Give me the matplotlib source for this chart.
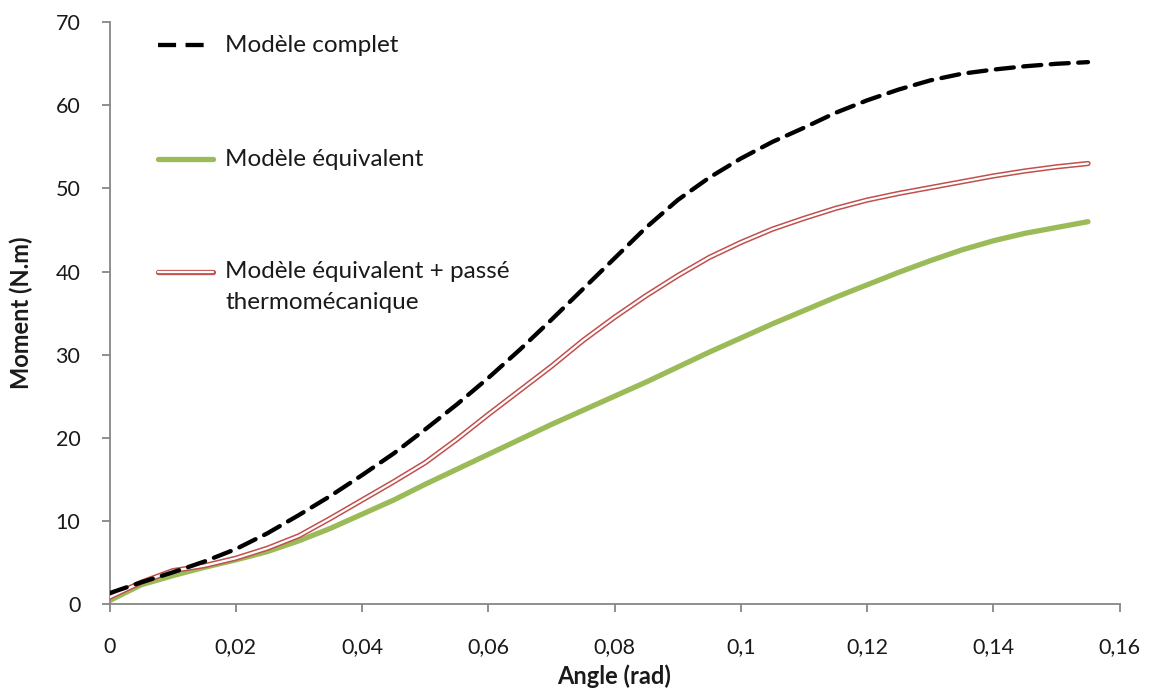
import matplotlib
matplotlib.use("Agg")
import matplotlib.pyplot as plt
from matplotlib.lines import Line2D
from matplotlib.ticker import FuncFormatter

plt.rcParams['font.family'] = ['Lato', 'DejaVu Sans']

# Data
angle_complet = [0, 0.005, 0.01, 0.015, 0.02, 0.025, 0.03, 0.035, 0.04, 0.045, 0.05, 0.055, 0.06, 0.065,
                 0.07, 0.075, 0.08, 0.085, 0.09, 0.095, 0.1, 0.105, 0.11, 0.115, 0.12, 0.125, 0.13,
                 0.135, 0.14, 0.145, 0.15, 0.155]
moment_complet = [1.3, 2.6, 3.8, 5.1, 6.6, 8.5, 10.7, 13.0, 15.5, 18.1, 21.0, 24.0, 27.2, 30.6,
                  34.2, 37.9, 41.6, 45.3, 48.6, 51.3, 53.6, 55.6, 57.3, 59.1, 60.6, 61.9, 63.0,
                  63.8, 64.3, 64.7, 65.0, 65.2]

angle_equiv = [0, 0.005, 0.01, 0.015, 0.02, 0.025, 0.03, 0.035, 0.04, 0.045, 0.05, 0.055, 0.06, 0.065,
               0.07, 0.075, 0.08, 0.085, 0.09, 0.095, 0.1, 0.105, 0.11, 0.115, 0.12, 0.125, 0.13,
               0.135, 0.14, 0.145, 0.15, 0.155]
moment_equiv = [0.4, 2.3, 3.4, 4.4, 5.3, 6.3, 7.6, 9.1, 10.8, 12.5, 14.4, 16.2, 18.0, 19.8,
                21.6, 23.3, 25.0, 26.7, 28.5, 30.3, 32.0, 33.7, 35.3, 36.9, 38.4, 39.9, 41.3,
                42.6, 43.7, 44.6, 45.3, 46.0]

angle_thermo = [0, 0.005, 0.01, 0.015, 0.02, 0.025, 0.03, 0.035, 0.04, 0.045, 0.05, 0.055, 0.06, 0.065,
                0.07, 0.075, 0.08, 0.085, 0.09, 0.095, 0.1, 0.105, 0.11, 0.115, 0.12, 0.125, 0.13,
                0.135, 0.14, 0.145, 0.15, 0.155]
moment_thermo = [0.8, 2.6, 4.0, 4.6, 5.5, 6.7, 8.2, 10.3, 12.5, 14.7, 17.0, 19.8, 22.8, 25.7,
                 28.6, 31.7, 34.5, 37.1, 39.5, 41.7, 43.5, 45.1, 46.4, 47.6, 48.6, 49.4, 50.1,
                 50.8, 51.5, 52.1, 52.6, 53.0]

labels = ["Modèle complet", "Modèle équivalent", "Modèle équivalent + passé", "thermomécanique"]

x_ticks = [0, 0.02, 0.04, 0.06, 0.08, 0.1, 0.12, 0.14, 0.16]
y_ticks = [0, 10, 20, 30, 40, 50, 60, 70]

BLACK = "#000000"
GREEN = "#9BBB59"
RED = "#C0504D"
AXIS = "#868686"
TEXT = "#1a1a1a"

fig = plt.figure(figsize=(11.53, 6.95), dpi=100)
ax = fig.add_axes([0.095, 0.131, 0.876, 0.837])

ax.plot(angle_equiv, moment_equiv, color=GREEN, lw=3.8, solid_capstyle='round', zorder=2)
ax.plot(angle_thermo, moment_thermo, color=RED, lw=3.8, solid_capstyle='round', zorder=3)
ax.plot(angle_thermo, moment_thermo, color="white", lw=1.6, solid_capstyle='round', zorder=4)
ax.plot(angle_complet, moment_complet, color=BLACK, lw=3.1, dashes=(4.2, 2.2),
        dash_capstyle='round', zorder=5)

ax.set_xlim(0, 0.16)
ax.set_ylim(0, 70)
ax.set_xticks(x_ticks)
ax.set_yticks(y_ticks)

def fmt(v, pos):
    s = f"{v:.2f}".rstrip('0').rstrip('.')
    return s.replace('.', ',')

ax.xaxis.set_major_formatter(FuncFormatter(fmt))
ax.yaxis.set_major_formatter(FuncFormatter(lambda v, p: f"{int(v)}"))

for sp in ['top', 'right']:
    ax.spines[sp].set_visible(False)
for sp in ['left', 'bottom']:
    ax.spines[sp].set_color(AXIS)
    ax.spines[sp].set_linewidth(1.3)

ax.tick_params(axis='both', direction='out', length=6, width=1.3, color=AXIS,
               labelsize=15.5, labelcolor=TEXT)
ax.tick_params(axis='x', pad=18)
ax.tick_params(axis='y', pad=15)

ax.set_xlabel("Angle (rad)", fontsize=17, fontweight='bold', labelpad=5, color=TEXT)
ax.set_ylabel("Moment (N.m)", fontsize=17, fontweight='bold', labelpad=16, color=TEXT)

# Manual legend (axes fraction coordinates)
def ax_frac(px, py):
    bb = ax.get_position()
    W, H = 1153, 695
    fx = (px / W - bb.x0) / bb.width
    fy = ((1 - py / H) - bb.y0) / bb.height
    return fx, fy

x0, _ = ax_frac(158, 0)
x1, _ = ax_frac(213, 0)
xt, _ = ax_frac(225, 0)
_, y1 = ax_frac(0, 45)
_, y2 = ax_frac(0, 159)
_, y3 = ax_frac(0, 272)
_, y4 = ax_frac(0, 303)

ax.add_line(Line2D([x0, x1], [y1, y1], transform=ax.transAxes, color=BLACK, lw=3.1,
                   dashes=(4.2, 2.2), clip_on=False))
ax.add_line(Line2D([x0, x1], [y2, y2], transform=ax.transAxes, color=GREEN, lw=3.8,
                   solid_capstyle='round', clip_on=False))
ax.add_line(Line2D([x0, x1], [y3, y3], transform=ax.transAxes, color=RED, lw=3.8,
                   solid_capstyle='round', clip_on=False))
ax.add_line(Line2D([x0, x1], [y3, y3], transform=ax.transAxes, color="white", lw=1.6,
                   solid_capstyle='round', clip_on=False))

fs_leg = 17.5
ax.text(xt, y1, labels[0], transform=ax.transAxes, fontsize=fs_leg, va='center', ha='left', color=TEXT)
ax.text(xt, y2, labels[1], transform=ax.transAxes, fontsize=fs_leg, va='center', ha='left', color=TEXT)
ax.text(xt, y3, labels[2], transform=ax.transAxes, fontsize=fs_leg, va='center', ha='left', color=TEXT)
ax.text(xt, y4, labels[3], transform=ax.transAxes, fontsize=fs_leg, va='center', ha='left', color=TEXT)

fig.savefig("out.png", dpi=100, facecolor="white")
